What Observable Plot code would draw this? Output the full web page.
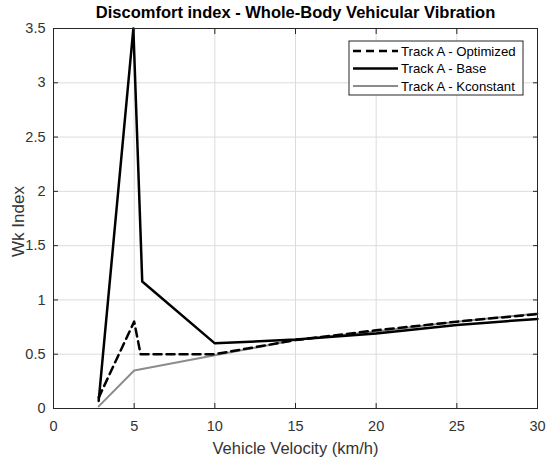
<!DOCTYPE html>
<html><head><meta charset="utf-8">
<script src="https://cdn.jsdelivr.net/npm/d3@7"></script>
<script src="https://cdn.jsdelivr.net/npm/@observablehq/plot@0.6"></script>
<style>body{margin:0;background:#fff;font-family:"Liberation Sans",Arial,sans-serif}</style>
</head><body><div id="chart"></div>
<script>
const optX = [2.8, 5, 5.4, 10, 15, 20, 25, 30];
const optY = [0.1, 0.8, 0.5, 0.5, 0.63, 0.72, 0.8, 0.87];
const baseX = [2.8, 4.95, 5.5, 10, 15, 20, 25, 30];
const baseY = [0.07, 3.5, 1.17, 0.6, 0.635, 0.69, 0.77, 0.825];
const kX = [2.8, 5, 10, 15, 20, 25, 30];
const kY = [0.02, 0.35, 0.49, 0.63, 0.71, 0.8, 0.875];
const xTicks = [0, 5, 10, 15, 20, 25, 30];
const yTicks = [0, 0.5, 1, 1.5, 2, 2.5, 3, 3.5];
const seriesNames = ["Track A - Optimized", "Track A - Base", "Track A - Kconstant"];

const opt = optX.map((x, i) => ({x, y: optY[i]}));
const base = baseX.map((x, i) => ({x, y: baseY[i]}));
const kc = kX.map((x, i) => ({x, y: kY[i]}));

const axisColor = "#262626";
const fmt = d => String(d);
const chart = Plot.plot({
  width: 550, height: 461,
  marginLeft: 53, marginRight: 13, marginTop: 28, marginBottom: 53,
  style: {fontFamily: "Liberation Sans, Arial, sans-serif", fontSize: "14.5px", color: axisColor, background: "#fff"},
  x: {domain: [0, 30], ticks: xTicks},
  y: {domain: [0, 3.5], ticks: yTicks},
  marks: [
    Plot.gridX(xTicks, {stroke: "#dcdcdc", strokeOpacity: 1}),
    Plot.gridY(yTicks, {stroke: "#dcdcdc", strokeOpacity: 1}),
    Plot.line(kc, {x: "x", y: "y", stroke: "#8c8c8c", strokeWidth: 2}),
    Plot.line(opt, {x: "x", y: "y", stroke: "#000", strokeWidth: 2.5, strokeDasharray: "8,5"}),
    Plot.line(base, {x: "x", y: "y", stroke: "#000", strokeWidth: 2.5}),
    Plot.frame({stroke: axisColor, strokeWidth: 1}),
    Plot.axisX(xTicks, {tickSize: -5, tickPadding: 17, stroke: axisColor, fill: "#333", fontSize: 14.5, tickFormat: fmt, label: null}),
    Plot.axisX(xTicks, {anchor: "top", tickSize: -5, text: null, label: null, stroke: axisColor}),
    Plot.axisY(yTicks, {tickSize: -5, tickPadding: 13, stroke: axisColor, fill: "#333", fontSize: 14.5, tickFormat: fmt, label: null}),
    Plot.axisY(yTicks, {anchor: "right", tickSize: -5, text: null, label: null, stroke: axisColor}),
    Plot.text(["Vehicle Velocity (km/h)"], {frameAnchor: "bottom", lineAnchor: "middle", textAnchor: "middle", dy: 40, fontSize: 16.5, fill: "#333"}),
    Plot.text(["Wk Index"], {frameAnchor: "left", lineAnchor: "middle", textAnchor: "middle", dx: -35, dy: 3, rotate: -90, fontSize: 17, fill: "#333"}),
    Plot.text(["Discomfort index - Whole-Body Vehicular Vibration"], {frameAnchor: "top", lineAnchor: "middle", textAnchor: "middle", dy: -16, fontWeight: "bold", fontSize: 16.5, fill: "#000"})
  ]
});
document.getElementById("chart").appendChild(chart);

// legend
const svg = d3.select(chart);
const lg = svg.append("g").attr("font-family", "Liberation Sans, Arial, sans-serif").attr("font-size", 13.2).attr("text-anchor", "start");
lg.append("rect").attr("x", 349).attr("y", 41).attr("width", 174).attr("height", 54)
  .attr("fill", "#fff").attr("stroke", axisColor).attr("stroke-width", 1);
const styles = [
  {stroke: "#000", w: 2.5, dash: "8,5"},
  {stroke: "#000", w: 2.5, dash: null},
  {stroke: "#8c8c8c", w: 2, dash: null}
];
seriesNames.forEach((name, i) => {
  const yy = 51 + i * 17.5;
  const l = lg.append("line").attr("x1", 353).attr("x2", 398).attr("y1", yy).attr("y2", yy)
    .attr("stroke", styles[i].stroke).attr("stroke-width", styles[i].w);
  if (styles[i].dash) l.attr("stroke-dasharray", styles[i].dash);
  lg.append("text").attr("x", 401).attr("y", yy).attr("dy", "0.35em").attr("fill", "#000").attr("text-anchor", "start").text(name);
});
</script></body></html>
